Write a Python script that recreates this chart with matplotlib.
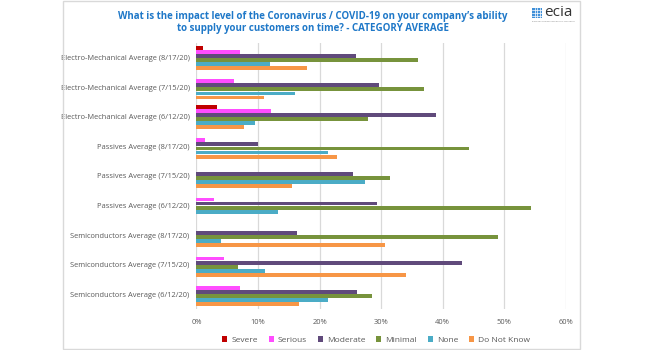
import matplotlib
matplotlib.use('Agg')
import matplotlib.pyplot as plt
from matplotlib.patches import Rectangle
import numpy as np

categories = [
    'Electro-Mechanical Average (8/17/20)',
    'Electro-Mechanical Average (7/15/20)',
    'Electro-Mechanical Average (6/12/20)',
    'Passives Average (8/17/20)',
    'Passives Average (7/15/20)',
    'Passives Average (6/12/20)',
    'Semiconductors Average (8/17/20)',
    'Semiconductors Average (7/15/20)',
    'Semiconductors Average (6/12/20)',
]
series_names = ['Severe', 'Serious', 'Moderate', 'Minimal', 'None', 'Do Not Know']
severe = [1.0, 0.0, 3.4, 0.0, 0.0, 0.0, 0.0, 0.0, 0.0]
serious = [7.0, 6.1, 12.1, 1.4, 0.0, 2.9, 0.0, 4.5, 7.1]
moderate = [26.0, 29.6, 39.0, 10.0, 25.4, 29.4, 16.3, 43.2, 26.1]
minimal = [36.0, 37.0, 27.8, 44.3, 31.4, 54.3, 49.0, 6.7, 28.5]
none_ = [12.0, 16.0, 9.5, 21.4, 27.4, 13.2, 4.0, 11.2, 21.4]
do_not_know = [17.9, 11.0, 7.7, 22.8, 15.6, 0.0, 30.6, 34.1, 16.6]
xticks = [0, 10, 20, 30, 40, 50, 60]

values = [severe, serious, moderate, minimal, none_, do_not_know]
colors = ['#C00000', '#FF4DFF', '#604A7B', '#77933C', '#4BACC6', '#F79646']

plt.rcParams['font.family'] = ['Open Sans', 'DejaVu Sans']

fig = plt.figure(figsize=(6.45, 3.5), dpi=100)
ax = fig.add_axes([196.5 / 645, 1 - 309 / 350, 369.2 / 645, 266 / 350])

n = len(categories)
centers = np.arange(n)
bar_h = 0.138
for i, (name, vals, col) in enumerate(zip(series_names, values, colors)):
    offs = (i - 2.5) * bar_h
    ax.barh(centers + offs, vals, height=bar_h * 0.95, color=col, label=name)

ax.set_ylim(n - 0.5, -0.5)
ax.set_xlim(0, 60)
ax.set_xticks(xticks)
ax.set_xticklabels([f'{t}%' for t in xticks])
ax.set_yticks(centers)
ax.set_yticklabels(categories)
ax.tick_params(axis='both', length=0, labelsize=5.4, colors='#595959')
ax.tick_params(axis='y', pad=5)
ax.tick_params(axis='x', pad=7)
ax.grid(axis='x', color='#D9D9D9', linewidth=0.9)
ax.set_axisbelow(True)
for s in ax.spines.values():
    s.set_visible(False)

leg = ax.legend(loc='upper center', bbox_to_anchor=(0.487, -0.075), ncol=6,
                frameon=False, fontsize=6, handlelength=0.6, handleheight=0.6,
                columnspacing=1.3, handletextpad=0.5, labelcolor='#595959')

# chart frame
fig.patches.append(Rectangle((63 / 645, 1 / 350), 517 / 645, 348 / 350,
                             transform=fig.transFigure, fill=False,
                             edgecolor='#D9D9D9', linewidth=1))

fig.text(313 / 645, 1 - 16 / 350,
         'What is the impact level of the Coronavirus / COVID-19 on your company\u2019s ability',
         ha='center', va='center', fontsize=7.0, fontweight='bold', color='#1F78C8')
fig.text(313 / 645, 1 - 29 / 350,
         'to supply your customers on time? - CATEGORY AVERAGE',
         ha='center', va='center', fontsize=7.0, fontweight='bold', color='#1F78C8')

# logo
lx, ly, ls = 532 / 645, 1 - 18 / 350, 10
fig.patches.append(Rectangle((lx, ly), ls / 645, ls / 350, transform=fig.transFigure,
                             facecolor='#3E8FD8', edgecolor='none'))
for k in range(1, 4):
    fig.lines.append(plt.Line2D([lx + k * ls / 4 / 645] * 2, [ly, ly + ls / 350],
                                transform=fig.transFigure, color='white', linewidth=0.5))
    fig.lines.append(plt.Line2D([lx, lx + ls / 645], [ly + k * ls / 4 / 350] * 2,
                                transform=fig.transFigure, color='white', linewidth=0.5))
fig.text(544 / 645, 1 - 13 / 350, 'ecia', ha='left', va='center', fontsize=11,
         color='#333333')
fig.text(532 / 645, 1 - 21 / 350, 'Electronic Components Industry Association',
         ha='left', va='center', fontsize=1.5, color='#777777')

fig.savefig('out.png', dpi=100, facecolor='white')
